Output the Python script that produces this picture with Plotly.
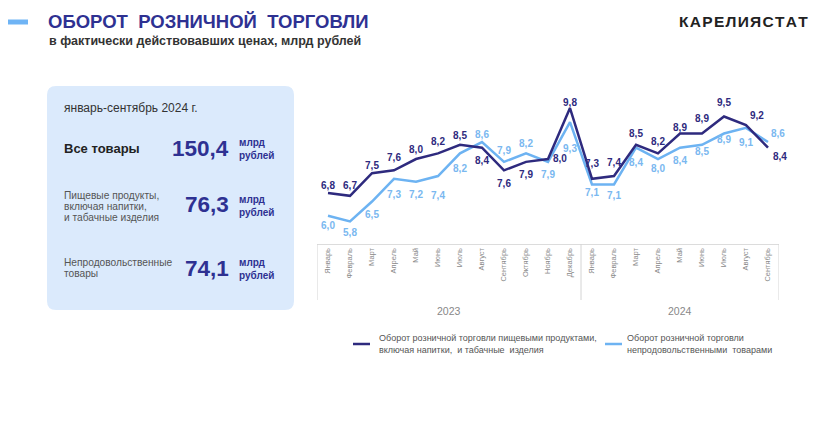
import plotly.graph_objects as go

# ---- data ----
months_2023 = ["Январь", "Февраль", "Март", "Апрель", "Май", "Июнь", "Июль",
               "Август", "Сентябрь", "Октябрь", "Ноябрь", "Декабрь"]
months_2024 = ["Январь", "Февраль", "Март", "Апрель", "Май", "Июнь", "Июль",
               "Август", "Сентябрь"]
year_labels = ["2023", "2024"]
food = [6.8, 6.7, 7.5, 7.6, 8.0, 8.2, 8.5, 8.4, 7.6, 7.9, 8.0, 9.8,
        7.3, 7.4, 8.5, 8.2, 8.9, 8.9, 9.5, 9.2, 8.4]
nonfood = [6.0, 5.8, 6.5, 7.3, 7.2, 7.4, 8.2, 8.6, 7.9, 8.2, 7.9, 9.3,
           7.1, 7.1, 8.4, 8.0, 8.4, 8.5, 8.9, 9.1, 8.6]
series_names = ["Оборот розничной торговли пищевыми продуктами,<br>включая напитки,  и табачные  изделия",
                "Оборот розничной торговли<br>непродовольственными  товарами"]
summary_period = "январь-сентябрь 2024 г."
summary_labels = ["Все товары",
                  ["Пищевые продукты,", "включая напитки,", "и табачные изделия"],
                  ["Непродовольственные", "товары"]]
summary_values = ["150,4", "76,3", "74,1"]
brand = "КАРЕЛИЯСТАТ"

# ---- categories ----
cats = [f"{m} {year_labels[0]}" for m in months_2023] + [f"{m} {year_labels[1]}" for m in months_2024]
tick_text = months_2023 + months_2024

DARK = "#2e2a7e"
LIGHT = "#6db3f2"
TITLE = "#2e3192"
FONT = "Liberation Sans"

OFF = 8  # default page body margin
W, H = 832 - OFF, 432 - OFF
L, T = 317 - OFF, 95 - OFF
R = W - (779 - OFF)
B = H - (244 - OFF)
PW, PH = W - L - R, H - T - B


def px(x):
    return (x - OFF - L) / PW


def py(y):
    return (H - B - (y - OFF)) / PH


def gap_size(r):
    # invisible marker size giving a text offset of r pixels
    return 0 if r <= 1 else (r - 1) / 0.625


# ---- label placement (style only) ----
TC, BC = "top center", "bottom center"
food_pos = [TC, TC, TC, TC, TC, TC, TC, BC, BC, BC, "middle right", TC,
            TC, TC, TC, TC, TC, TC, TC, "top right", "bottom right"]
food_gap = [2, 4.8, 2, 6.4, 4, 5.4, 3, 9.3, 9.6, 9, 5, 0,
            9, 8, 5, 5.4, 0, 8.6, 7.6, 4, 5]
nonfood_pos = [BC, BC, BC, BC, BC, BC, BC, TC, TC, TC, BC, BC,
               BC, BC, BC, BC, BC, BC, BC, BC, "top right"]
nonfood_gap = [6, 7, 8.5, 12, 9, 15, 11.6, 2, 5, 4, 9, 22,
               4.4, 7.4, 11, 5, 9, 3, 2.4, 11, 3]

fig = go.Figure()
fig.add_trace(go.Scatter(x=cats, y=nonfood, mode="lines+markers+text", name=series_names[1],
                         line=dict(color=LIGHT, width=2.5),
                         marker=dict(size=[gap_size(g) for g in nonfood_gap], opacity=0),
                         texttemplate="<b>%{y:.1f}</b>", textposition=nonfood_pos,
                         textfont=dict(color="#7ab8f0", size=10, family=FONT + ", Arial"),
                         cliponaxis=False))
fig.add_trace(go.Scatter(x=cats, y=food, mode="lines+markers+text", name=series_names[0],
                         line=dict(color=DARK, width=2.5),
                         marker=dict(size=[gap_size(g) for g in food_gap], opacity=0),
                         texttemplate="<b>%{y:.1f}</b>", textposition=food_pos,
                         textfont=dict(color=DARK, size=10, family=FONT + ", Arial"),
                         cliponaxis=False))

shapes = []
annotations = []

# left panel with rounded corners
x0, y0, x1, y1, r = 47, 86, 294, 310, 9
path = (f"M {px(x0 + r)},{py(y0)} L {px(x1 - r)},{py(y0)} Q {px(x1)},{py(y0)} {px(x1)},{py(y0 + r)} "
        f"L {px(x1)},{py(y1 - r)} Q {px(x1)},{py(y1)} {px(x1 - r)},{py(y1)} "
        f"L {px(x0 + r)},{py(y1)} Q {px(x0)},{py(y1)} {px(x0)},{py(y1 - r)} "
        f"L {px(x0)},{py(y0 + r)} Q {px(x0)},{py(y0)} {px(x0 + r)},{py(y0)} Z")
shapes.append(dict(type="path", xref="paper", yref="paper", path=path,
                   fillcolor="#dbeafc", line=dict(width=0), layer="below"))

# title accent bar
shapes.append(dict(type="line", xref="paper", yref="paper", x0=px(0), x1=px(28), y0=py(22), y1=py(22),
                   line=dict(color="#6fb4f5", width=5)))

# dividers for year groups
for xv in [-0.5, 11.5, 20.5]:
    shapes.append(dict(type="line", xref="x", yref="paper", x0=xv, x1=xv, y0=py(244), y1=py(300),
                       line=dict(color="#d4d4d4", width=1)))

# legend samples
shapes.append(dict(type="line", xref="paper", yref="paper", x0=px(353), x1=px(370), y0=py(344), y1=py(344),
                   line=dict(color=DARK, width=2.5)))
shapes.append(dict(type="line", xref="paper", yref="paper", x0=px(605), x1=px(622), y0=py(344), y1=py(344),
                   line=dict(color=LIGHT, width=2.5)))


def ann(x, y, text, size, color, bold=False, xanchor="left", yanchor="middle", align="left"):
    annotations.append(dict(xref="paper", yref="paper", x=px(x), y=py(y), text=(f"<b>{text}</b>" if bold else text),
                            showarrow=False, xanchor=xanchor, yanchor=yanchor, align=align,
                            font=dict(size=size, color=color, family=FONT + ", Arial")))


ann(46, 22, "ОБОРОТ  РОЗНИЧНОЙ  ТОРГОВЛИ", 18.5, TITLE, bold=True)
ann(47, 41, "в фактически действовавших ценах, млрд рублей", 12.5, "#333333", bold=True)
ann(677, 22, "\u200a".join(brand), 15.5, "#222222", bold=True)

ann(62, 108, summary_period, 12, "#333333")
ann(62, 148, summary_labels[0], 13, "#222222", bold=True)
for i, line in enumerate(summary_labels[1]):
    ann(62, 195 + 11 * i, line, 10.2, "#555555")
for i, line in enumerate(summary_labels[2]):
    ann(62, 262 + 11 * i, line, 10.2, "#555555")
ann(231, 148, summary_values[0], 22.5, TITLE, bold=True, xanchor="right")
ann(231, 204, summary_values[1], 22.5, TITLE, bold=True, xanchor="right")
ann(231, 268, summary_values[2], 22.5, TITLE, bold=True, xanchor="right")
for yy in [149, 206, 269]:
    ann(237, yy, "млрд<br>рублей", 10, TITLE, bold=True)

# year labels
annotations.append(dict(xref="x", yref="paper", x=5.5, y=py(311), text=year_labels[0], showarrow=False,
                        font=dict(size=10.5, color="#888888", family=FONT + ", Arial"), yanchor="middle"))
annotations.append(dict(xref="x", yref="paper", x=16, y=py(311), text=year_labels[1], showarrow=False,
                        font=dict(size=10.5, color="#888888", family=FONT + ", Arial"), yanchor="middle"))

# legend texts
ann(377, 344, series_names[0], 9, "#555555")
ann(625, 344, series_names[1], 9, "#555555")

fig.update_layout(
    width=W, height=H,
    margin=dict(l=L, r=R, t=T, b=B, pad=0),
    paper_bgcolor="white", plot_bgcolor="white",
    showlegend=False,
    separators=",.",
    font=dict(family=FONT + ", Arial"),
    shapes=shapes, annotations=annotations,
    xaxis=dict(type="category", tickmode="array", tickvals=cats, ticktext=tick_text,
               tickangle=-90, tickfont=dict(size=7.5, color="#8a8a8a"),
               showgrid=False, zeroline=False, showline=True, linecolor="#dcdcdc", linewidth=1,
               ticks="", range=[-0.5, 20.5], fixedrange=True),
    yaxis=dict(visible=False, range=[5.0, 10.26], fixedrange=True),
)

fig.write_html("out.html", config={"displayModeBar": False})
